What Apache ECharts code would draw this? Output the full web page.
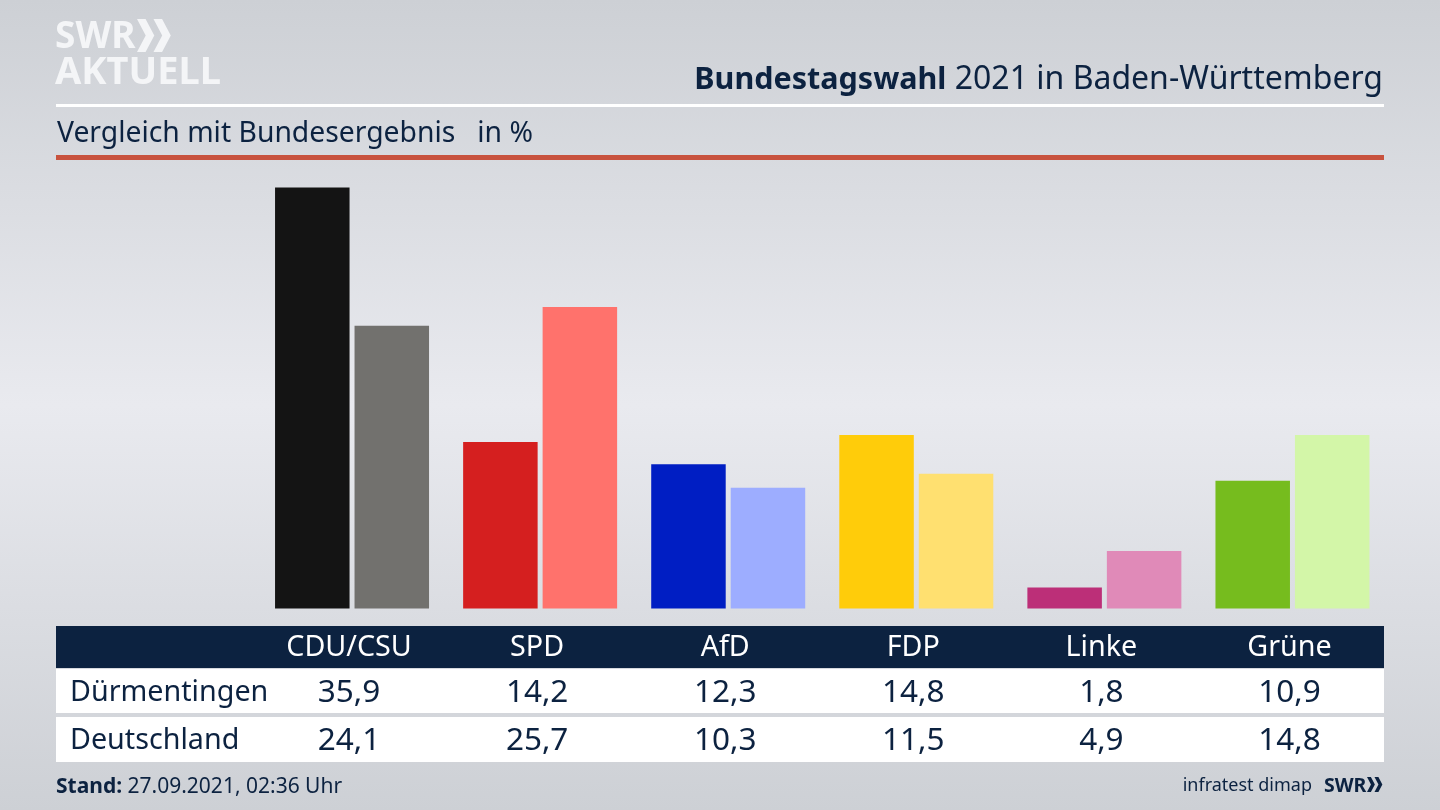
<!DOCTYPE html>
<html>
<head>
<meta charset="utf-8">
<title>Bundestagswahl 2021 in Baden-Württemberg</title>
<script src="https://cdn.jsdelivr.net/npm/echarts@6/dist/echarts.min.js"></script>
<style>
html,body{margin:0;padding:0;background:#d6d8de;}
#main{width:1440px;height:810px;}
</style>
</head>
<body>
<div id="main"></div>
<script>
var parties = ['CDU/CSU', 'SPD', 'AfD', 'FDP', 'Linke', 'Grüne'];
var localName = 'Dürmentingen';
var nationalName = 'Deutschland';
var localValues = [35.9, 14.2, 12.3, 14.8, 1.8, 10.9];
var nationalValues = [24.1, 25.7, 10.3, 11.5, 4.9, 14.8];
var localColors = ['#141414', '#d51f1f', '#001ec3', '#ffcc0a', '#bc2f78', '#76bc1e'];
var nationalColors = ['#72716e', '#ff726c', '#9dadff', '#ffe070', '#e08ab8', '#d3f6a8'];

var navy = '#0c2240';
var font = '"Noto Sans", sans-serif';
var myChart = echarts.init(document.getElementById('main'));

function barData(values, colors) {
	return values.map(function(v, i) {
		return { value: v, itemStyle: { color: colors[i] } };
	});
}
function decimal(v) {
	return v.toFixed(1).replace('.', ',');
}
function box(x, y, w, h, color) {
	return { type: 'rect', silent: true, shape: { x: x, y: y, width: w, height: h }, style: { fill: color } };
}
function label(x, y, text, size, color, align, weight) {
	return {
		type: 'text', silent: true, x: x, y: y,
		style: { text: text, fontFamily: font, fontSize: size, fill: color, align: align || 'left', verticalAlign: 'middle', fontWeight: weight || 'normal' }
	};
}
// the double arrow of the SWR logo
function chevrons(x, y, h, color) {
	var w = h * 0.42, t = h * 0.26, out = [];
	[0, h * 0.5].forEach(function(dx) {
		out.push({
			type: 'polygon', silent: true,
			shape: { points: [[x + dx, y], [x + dx + t, y], [x + dx + w + t * 0.4, y + h / 2], [x + dx + t, y + h], [x + dx, y + h], [x + dx + w - t * 0.6, y + h / 2]] },
			style: { fill: color }
		});
	});
	return out;
}

var option = {
	animation: false,
	backgroundColor: {
		type: 'linear', x: 0, y: 0, x2: 0, y2: 1,
		colorStops: [
			{ offset: 0, color: '#cdd0d5' },
			{ offset: 0.5, color: '#e9eaef' },
			{ offset: 1, color: '#cdd0d5' }
		]
	},
	grid: { left: 258, width: 1128.5, top: 186.3, height: 422.2 },
	xAxis: { type: 'category', data: parties, show: false },
	yAxis: { type: 'value', min: 0, max: 36, show: false },
	series: [
		{ name: localName, type: 'bar', barWidth: 74.5, barGap: '6.7%', data: barData(localValues, localColors) },
		{ name: nationalName, type: 'bar', barWidth: 74.5, data: barData(nationalValues, nationalColors) }
	]
};
myChart.setOption(option);

var g = [
	box(56, 104, 1328, 3, '#ffffff'),
	box(56, 155, 1328, 5, '#c8523e'),
	box(56, 626, 1328, 42, navy),
	box(56, 669, 1328, 44, '#ffffff'),
	box(56, 717, 1328, 45, '#ffffff'),
	label(55, 37, 'SWR', 37, '#f4f5f7', 'left', 'bold'),
	label(55, 73, 'AKTUELL', 38, '#f4f5f7', 'left', 'bold'),
	{
		type: 'text', silent: true, x: 1383, y: 80,
		style: {
			text: '{b|Bundestagswahl} 2021 in Baden-Württemberg', align: 'right', verticalAlign: 'middle',
			fontFamily: font, fontSize: 32, fill: navy,
			rich: { b: { fontFamily: font, fontSize: 30.5, fontWeight: 'bold', fill: navy } }
		}
	},
	label(57, 134, 'Vergleich mit Bundesergebnis   in %', 28.3, navy),
	label(70, 693, localName, 28.7, navy),
	label(70, 741, nationalName, 28.7, navy),
	{
		type: 'text', silent: true, x: 56, y: 787,
		style: {
			text: '{b|Stand:} 27.09.2021, 02:36 Uhr', verticalAlign: 'middle',
			fontFamily: font, fontSize: 21, fill: navy,
			rich: { b: { fontFamily: font, fontSize: 21, fontWeight: 'bold', fill: navy } }
		}
	},
	label(1312, 786, 'infratest dimap', 18, navy, 'right'),
	label(1324, 786, 'SWR', 19.5, navy, 'left', 'bold')
];
g = g.concat(chevrons(137, 19, 33, '#f4f5f7'), chevrons(1367, 777, 15, navy));

parties.forEach(function(p, i) {
	var cx = myChart.convertToPixel({ xAxisIndex: 0 }, p) - 3;
	g.push(label(cx, 648, p, 28.7, '#ffffff', 'center'));
	g.push(label(cx, 693, decimal(localValues[i]), 31.5, navy, 'center'));
	g.push(label(cx, 741, decimal(nationalValues[i]), 31.5, navy, 'center'));
});
myChart.setOption({ graphic: { elements: g } });
</script>
</body>
</html>
